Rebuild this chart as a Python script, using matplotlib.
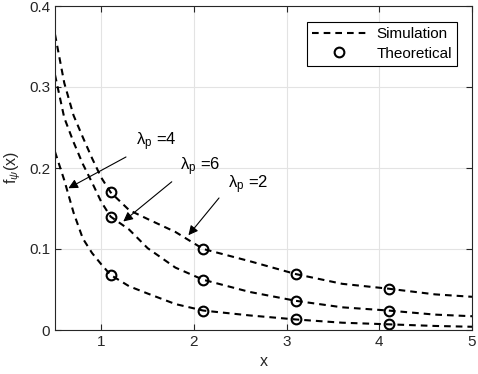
import matplotlib
matplotlib.use("Agg")
import matplotlib.pyplot as plt

plt.rcParams['font.family'] = ['Liberation Sans', 'DejaVu Sans']
plt.rcParams['mathtext.fontset'] = 'custom'
plt.rcParams['mathtext.rm'] = 'Liberation Sans'
plt.rcParams['mathtext.it'] = 'Liberation Sans:italic'

# Simulation curves (sampled)
x_sim = [0.5, 0.6, 0.7, 0.8, 0.9, 1.0, 1.1, 1.3, 1.5, 1.8, 2.1, 2.6, 3.1, 3.6, 4.1, 4.6, 5.0]
sim_lp2 = [0.365, 0.305, 0.265, 0.238, 0.212, 0.188, 0.170, 0.148, 0.137, 0.121, 0.100,
           0.085, 0.069, 0.057, 0.051, 0.044, 0.041]
sim_lp6 = [0.315, 0.262, 0.232, 0.205, 0.182, 0.158, 0.140, 0.124, 0.101, 0.077, 0.062,
           0.047, 0.036, 0.028, 0.024, 0.019, 0.017]
sim_lp4 = [0.220, 0.185, 0.145, 0.113, 0.095, 0.081, 0.068, 0.054, 0.045, 0.032, 0.024,
           0.018, 0.013, 0.009, 0.007, 0.005, 0.004]

# Theoretical points
x_th = [1.1, 2.1, 3.1, 4.1]
th_lp2 = [0.170, 0.100, 0.069, 0.051]
th_lp6 = [0.140, 0.062, 0.036, 0.024]
th_lp4 = [0.068, 0.024, 0.013, 0.007]

x_ticks = [1, 2, 3, 4, 5]
y_ticks = [0, 0.1, 0.2, 0.3, 0.4]
y_ticklabels = ['0', '0.1', '0.2', '0.3', '0.4']

fig = plt.figure(figsize=(4.78, 3.74), dpi=100)
ax = fig.add_axes([55/478, 44/374, 417/478, 324/374])

dash = (0, (3.2, 2.4))
for ys in (sim_lp2, sim_lp6, sim_lp4):
    ax.plot(x_sim, ys, color='black', linestyle=dash, linewidth=1.5)
for ys in (th_lp2, th_lp6, th_lp4):
    ax.plot(x_th, ys, linestyle='none', marker='o', markersize=7,
            markerfacecolor='none', markeredgecolor='black', markeredgewidth=1.5)

# legend proxies
h1, = ax.plot([], [], color='black', linestyle=dash, linewidth=1.5)
h2, = ax.plot([], [], linestyle='none', marker='o', markersize=7,
              markerfacecolor='none', markeredgecolor='black', markeredgewidth=1.5)
leg = ax.legend([h1, h2], ['Simulation', 'Theoretical'], loc='upper right',
                bbox_to_anchor=(0.964, 0.951), borderaxespad=0, fontsize=11,
                handlelength=3.6, fancybox=False, framealpha=1, edgecolor='black',
                borderpad=0.35, labelspacing=0.35, handletextpad=0.6)
leg.get_frame().set_linewidth(0.8)

# annotations
ann = [('λ$_{\\rm p}$ =4', (1.37, 0.232), (1.266, 0.2136), (0.644, 0.175)),
       ('λ$_{\\rm p}$ =6', (1.85, 0.201), (1.76, 0.183), (1.237, 0.134)),
       ('λ$_{\\rm p}$ =2', (2.37, 0.180), (2.27, 0.163), (1.94, 0.117))]
for txt, tpos, tail, tip in ann:
    ax.annotate('', xy=tip, xytext=tail,
                arrowprops=dict(arrowstyle='-|>', color='black', lw=0.8,
                                mutation_scale=14, shrinkA=0, shrinkB=0))
    ax.text(tpos[0], tpos[1], txt, fontsize=12, va='center', ha='left')

ax.set_xlim(0.5, 5)
ax.set_ylim(0, 0.4)
ax.set_xticks(x_ticks)
ax.set_yticks(y_ticks)
ax.set_yticklabels(y_ticklabels)
ax.grid(True, color='#e3e3e3', linewidth=0.8)
ax.set_axisbelow(True)
ax.tick_params(direction='in', top=True, right=True, length=4, width=0.8,
               labelsize=11, colors='#262626')
for s in ax.spines.values():
    s.set_color('#262626')
    s.set_linewidth(0.8)
ax.set_xlabel('x', fontsize=11.5, color='#262626')
ax.set_ylabel(r'f$_\psi$(x)', fontsize=11.5, color='#262626')

fig.savefig('out.png', dpi=100)
